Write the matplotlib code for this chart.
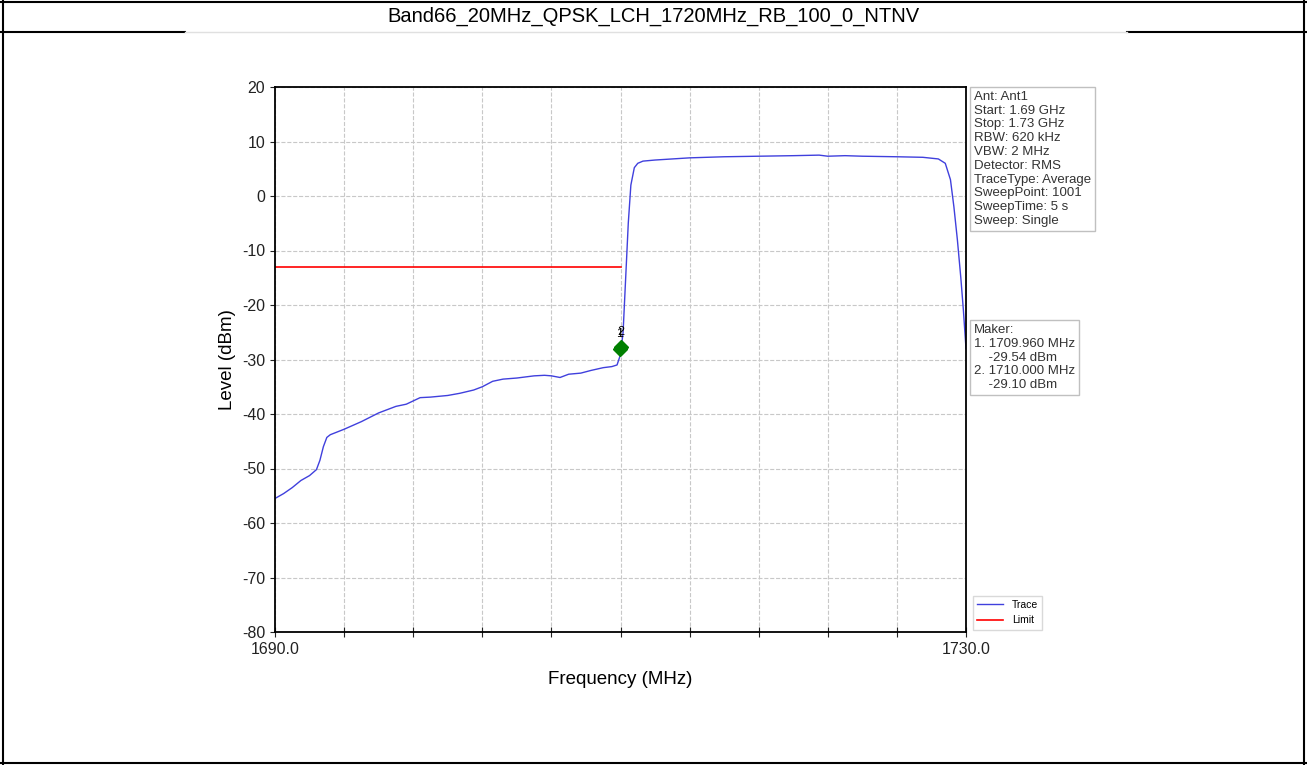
import matplotlib
matplotlib.use('Agg')
import matplotlib.pyplot as plt
from matplotlib.lines import Line2D

plt.rcParams['font.family'] = ['Liberation Sans', 'DejaVu Sans']
plt.rcParams['axes.unicode_minus'] = False

title = "Band66_20MHz_QPSK_LCH_1720MHz_RB_100_0_NTNV"

# trace (MHz, dBm)
trace_freq = [1690.0, 1690.5, 1691.0, 1691.5, 1692.0, 1692.4, 1692.6, 1692.8, 1693.0, 1693.2,
              1694.0, 1695.0, 1696.0, 1697.0, 1697.6, 1698.4, 1699.0, 1700.0, 1700.7, 1701.5,
              1702.0, 1702.6, 1703.2, 1704.0, 1705.0, 1705.6, 1706.0, 1706.5, 1707.0, 1707.7,
              1708.3, 1709.0, 1709.5, 1709.8, 1710.0, 1710.15, 1710.3, 1710.45, 1710.6, 1710.8,
              1711.0, 1711.3, 1712.0, 1713.0, 1714.0, 1716.0, 1718.0, 1720.0, 1721.5, 1722.0,
              1723.0, 1724.0, 1726.0, 1727.5, 1728.4, 1728.8, 1729.1, 1729.3, 1729.5, 1729.7,
              1729.85, 1730.0]
trace_level = [-55.5, -54.6, -53.5, -52.2, -51.3, -50.2, -48.5, -46.0, -44.3, -43.8,
               -42.8, -41.4, -39.8, -38.6, -38.2, -37.0, -36.9, -36.6, -36.2, -35.6,
               -35.0, -34.0, -33.6, -33.4, -33.0, -32.9, -33.0, -33.3, -32.7, -32.5,
               -32.0, -31.5, -31.3, -31.0, -29.1, -25.0, -15.0, -5.0, 2.0, 5.2,
               6.0, 6.4, 6.6, 6.8, 7.0, 7.2, 7.3, 7.4, 7.5, 7.3,
               7.4, 7.3, 7.2, 7.1, 6.8, 6.0, 3.0, -2.0, -8.0, -15.0,
               -21.0, -28.0]

limit_freq = [1690.0, 1710.0]
limit_level = [-13.0, -13.0]

marker_freq = [1709.96, 1710.0]
marker_level = [-29.54, -29.10]
marker_plot_level = [-28.0, -27.7]

info_text = ("Ant: Ant1\nStart: 1.69 GHz\nStop: 1.73 GHz\nRBW: 620 kHz\nVBW: 2 MHz\n"
             "Detector: RMS\nTraceType: Average\nSweepPoint: 1001\nSweepTime: 5 s\nSweep: Single")

fig = plt.figure(figsize=(13.07, 7.65), dpi=100)
ax = fig.add_axes([275 / 1307, 1 - 632 / 765, 691 / 1307, 545 / 765])

ax.plot(trace_freq, trace_level, color='#4040dd', lw=1.0, label='Trace')
ax.plot(limit_freq, limit_level, color='red', lw=1.2, label='Limit')
ax.plot(marker_freq, marker_plot_level, 'D', color='green', ms=7, ls='none')
for i, (f, l) in enumerate(zip(marker_freq, marker_plot_level)):
    ax.text(f, l + 1.6, str(i + 1), ha='center', va='bottom', fontsize=9)

ax.set_xlim(1690, 1730)
ax.set_ylim(-80, 20)
ax.set_xticks([1690 + 4 * i for i in range(11)])
ax.set_xticklabels(['1690.0'] + [''] * 9 + ['1730.0'])
ax.set_yticks(range(-80, 21, 10))
ax.tick_params(labelsize=11.5, colors='#222222')
ax.tick_params(axis='x', direction='inout', length=7)
ax.grid(True, ls='--', color='#c8c8c8', lw=0.8)
for s in ax.spines.values():
    s.set_linewidth(1.3)
ax.set_xlabel('Frequency (MHz)', fontsize=13.5, labelpad=10)
ax.set_ylabel('Level (dBm)', fontsize=13.5)

box = dict(boxstyle='square,pad=0.3', fc='white', ec='#c0c0c0')
ax.text(1.012, 0.993, info_text, transform=ax.transAxes, va='top', ha='left',
        fontsize=9.5, color='#333333', linespacing=1.2, bbox=box)

maker_text = "Maker:\n1. %.3f MHz\n    %.2f dBm\n2. %.3f MHz\n    %.2f dBm" % (
    marker_freq[0], marker_level[0], marker_freq[1], marker_level[1])
ax.text(1.012, 0.565, maker_text, transform=ax.transAxes, va='top', ha='left',
        fontsize=9.5, color='#333333', linespacing=1.2, bbox=box)

ax.legend(loc='lower left', bbox_to_anchor=(1.003, -0.005), fontsize=7.5, frameon=True,
          handlelength=2.5, fancybox=False, edgecolor='#d0d0d0')

# outer frame and title row
fig.text(0.5, 1 - 16 / 765, title, ha='center', va='center', fontsize=14.5)
for xs, ys in [([0.002, 0.002], [0, 1]), ([0.998, 0.998], [0, 1]),
               ([0, 1], [0.002, 0.002]), ([0, 1], [0.998, 0.998])]:
    fig.add_artist(Line2D(xs, ys, color='black', lw=1.5, transform=fig.transFigure))
yl = 1 - 32 / 765
fig.add_artist(Line2D([0, 185 / 1307], [yl, yl], color='black', lw=1.5, transform=fig.transFigure))
fig.add_artist(Line2D([1127 / 1307, 1], [yl, yl], color='black', lw=1.5, transform=fig.transFigure))
fig.add_artist(Line2D([185 / 1307, 1127 / 1307], [yl, yl], color='#e0e0e0', lw=1.0, transform=fig.transFigure))

fig.savefig('out.png', dpi=100)
